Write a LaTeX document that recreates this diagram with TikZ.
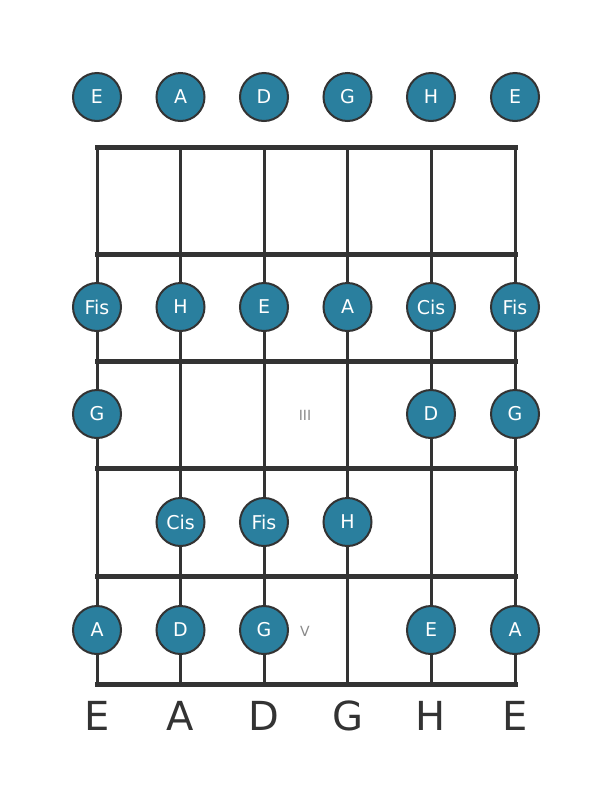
\documentclass[tikz,border=0pt]{standalone}
\usepackage{fontspec}
\setmainfont{DejaVu Sans}
\definecolor{notefill}{HTML}{2A7F9E}
\definecolor{wire}{HTML}{333333}
\definecolor{marker}{HTML}{8A8A8A}
\tikzset{
    note/.style={circle,draw=wire,line width=2pt,fill=notefill,text=white,
        minimum size=48pt,inner sep=0pt,font=\fontsize{19}{19}\selectfont},
    stringname/.style={text=wire,inner sep=0pt,font=\fontsize{40}{40}\selectfont},
    fretmark/.style={text=marker,inner sep=0pt,font=\fontsize{14}{14}\selectfont}
}
\begin{document}
\begin{tikzpicture}[x=1pt,y=-1pt]
    \useasboundingbox[fill=white] (0,0) rectangle (611,801);
    % strings
    \draw[wire,line width=3pt]
        (97,147) -- (97,684)
        (180.5,147) -- (180.5,684)
        (264,147) -- (264,684)
        (347.5,147) -- (347.5,684)
        (431,147) -- (431,684)
        (515,147) -- (515,684);
    % frets
    \draw[wire,line width=5pt,line cap=rect]
        (97,147) -- (515,147)
        (97,254) -- (515,254)
        (97,361) -- (515,361)
        (97,468) -- (515,468)
        (97,576) -- (515,576)
        (97,684) -- (515,684);
    % fret markers
    \node[fretmark] (m3) at (305,415) {III};
    \node[fretmark] (m5) at (305,631) {V};
    % open strings
    \node[note] (o1) at (97,97) {E};
    \node[note] (o2) at (180.5,97) {A};
    \node[note] (o3) at (264,97) {D};
    \node[note] (o4) at (347.5,97) {G};
    \node[note] (o5) at (431,97) {H};
    \node[note] (o6) at (515,97) {E};
    % second fret
    \node[note] (a1) at (97,307) {Fis};
    \node[note] (a2) at (180.5,307) {H};
    \node[note] (a3) at (264,307) {E};
    \node[note] (a4) at (347.5,307) {A};
    \node[note] (a5) at (431,307) {Cis};
    \node[note] (a6) at (515,307) {Fis};
    % third fret
    \node[note] (b1) at (97,414) {G};
    \node[note] (b5) at (431,414) {D};
    \node[note] (b6) at (515,414) {G};
    % fourth fret
    \node[note] (c2) at (180.5,522) {Cis};
    \node[note] (c3) at (264,522) {Fis};
    \node[note] (c4) at (347.5,522) {H};
    % fifth fret
    \node[note] (d1) at (97,630) {A};
    \node[note] (d2) at (180.5,630) {D};
    \node[note] (d3) at (264,630) {G};
    \node[note] (d5) at (431,630) {E};
    \node[note] (d6) at (515,630) {A};
    % tuning
    \node[stringname] (t1) at (97,716) {E};
    \node[stringname] (t2) at (180.5,716) {A};
    \node[stringname] (t3) at (264,716) {D};
    \node[stringname] (t4) at (347.5,716) {G};
    \node[stringname] (t5) at (431,716) {H};
    \node[stringname] (t6) at (515,716) {E};
\end{tikzpicture}
\end{document}
